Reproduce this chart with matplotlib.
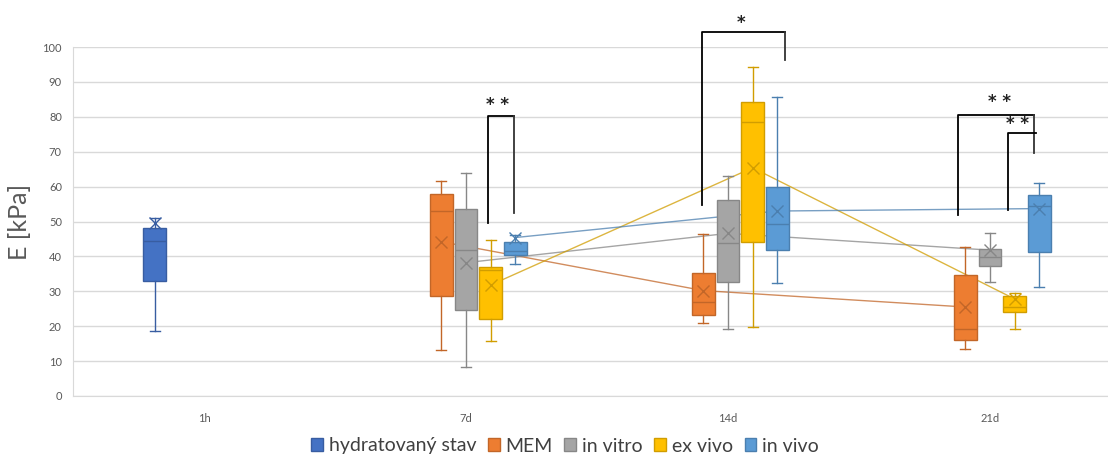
import numpy as np
import matplotlib
matplotlib.use('Agg')
import matplotlib.pyplot as plt
from matplotlib.patches import Patch
from matplotlib.colors import to_rgb

categories = ['1h', '7d', '14d', '21d']
series = ['hydratovaný stav', 'MEM', 'in vitro', 'ex vivo', 'in vivo']
colors = ['#4472C4', '#ED7D31', '#A5A5A5', '#FFC000', '#5B9BD5']

# per series, per category: (whislo, q1, med, q3, whishi, mean); None = no data
hydrated = [(18.5, 33.0, 44.3, 48.1, 50.9, 49.5), None, None, None]
mem = [None, (13.2, 28.7, 53.1, 57.8, 61.6, 44.2),
       (21.0, 23.1, 27.0, 35.2, 46.5, 30.2), (13.5, 16.0, 19.1, 34.8, 42.7, 25.5)]
in_vitro = [None, (8.4, 24.5, 41.7, 53.7, 63.8, 38.2),
            (19.2, 32.7, 43.7, 56.2, 63.1, 46.6), (32.8, 37.3, 39.9, 42.1, 46.8, 41.8)]
ex_vivo = [None, (15.9, 22.2, 36.0, 37.0, 44.6, 31.8),
           (19.9, 44.0, 78.6, 84.2, 94.4, 65.4), (19.1, 24.2, 25.5, 28.6, 29.4, 27.8)]
in_vivo = [None, (37.7, 40.4, 41.5, 44.0, 46.0, 45.4),
           (32.4, 41.7, 49.4, 60.0, 85.8, 53.0), (31.3, 41.2, 54.4, 57.6, 60.9, 53.7)]
all_data = [hydrated, mem, in_vitro, ex_vivo, in_vivo]

# significance brackets: x left, x right, y top, y bottom left, y bottom right, label, label x, label y
brackets = [
    (1.083, 1.185, 80.1, 49.5, 52.5, '* *', 1.12, 83.4),
    (1.899, 2.219, 104.4, 54.7, 96.3, '*', 2.05, 107.0),
    (2.878, 3.167, 80.5, 51.9, 69.7, '* *', 3.035, 84.3),
    (3.070, 3.175, 75.4, 53.3, None, '* *', 3.105, 77.8),
]

def darker(c, f=0.82):
    r, g, b = to_rgb(c)
    return (r * f, g * f, b * f)

plt.rcParams['font.family'] = ['Lato', 'DejaVu Sans']
fig = plt.figure(figsize=(11.08, 4.57), dpi=100)
ax = fig.add_axes([73 / 1108, 61 / 457, 1048 / 1108, 349 / 457])

slot = 0.094
bw = 0.086
for i, (data, col) in enumerate(zip(all_data, colors)):
    dk = darker(col)
    stats, pos = [], []
    for j, d in enumerate(data):
        if d is None:
            continue
        lo, q1, med, q3, hi, mean = d
        stats.append(dict(whislo=lo, q1=q1, med=med, q3=q3, whishi=hi, mean=mean, fliers=[]))
        pos.append(j + (i - 2) * slot)
    ax.bxp(stats, positions=pos, widths=bw, patch_artist=True, showmeans=True,
           showfliers=False, manage_ticks=False,
           boxprops=dict(facecolor=col, edgecolor=dk, linewidth=1.0),
           medianprops=dict(color=dk, linewidth=1.0),
           whiskerprops=dict(color=dk, linewidth=1.0),
           capprops=dict(color=dk, linewidth=1.0),
           capwidths=bw * 0.45,
           meanprops=dict(marker='x', markeredgecolor=dk, markersize=9, markeredgewidth=1.0),
           zorder=3)
    # mean line across categories
    ms = [s['mean'] for s in stats]
    if len(pos) > 1:
        ax.plot(pos, ms, color=dk, linewidth=1.0, alpha=0.75, zorder=2)

for xl, xr, yt, ybl, ybr, lab, lx, ly in brackets:
    ax.plot([xl, xl, xr], [ybl, yt, yt], color='black', linewidth=1.3, clip_on=False, zorder=5)
    if ybr is not None:
        ax.plot([xr, xr], [yt, ybr], color='#333333', linewidth=1.3, clip_on=False, zorder=5)
    ax.text(lx, ly, lab, ha='center', va='center', fontsize=12, fontweight='bold',
            color='#222222', family='DejaVu Sans')

ax.set_xlim(-0.5, 3.5)
ax.set_ylim(0, 100)
ax.set_yticks(np.arange(0, 101, 10))
ax.set_xticks(range(len(categories)))
ax.set_xticklabels(categories)
ax.tick_params(axis='both', length=0, labelsize=8, colors='#595959')
ax.tick_params(axis='x', pad=12)
ax.tick_params(axis='y', pad=8)
ax.grid(axis='y', color='#D9D9D9', linewidth=1.0)
ax.set_axisbelow(True)
for s in ['top', 'right']:
    ax.spines[s].set_visible(False)
for s in ['left', 'bottom']:
    ax.spines[s].set_color('#D9D9D9')
ax.set_ylabel('E [kPa]', fontsize=18, color='#595959', labelpad=8)

handles = [Patch(facecolor=c, edgecolor=darker(c)) for c in colors]
fig.legend(handles, series, loc='center', bbox_to_anchor=(565 / 1108, 1 - 446 / 457),
           ncol=5, frameon=False, fontsize=14, handlelength=0.6, handleheight=0.6,
           handletextpad=0.3, columnspacing=0.6, labelcolor='#404040')

fig.savefig('out.png', dpi=100)
